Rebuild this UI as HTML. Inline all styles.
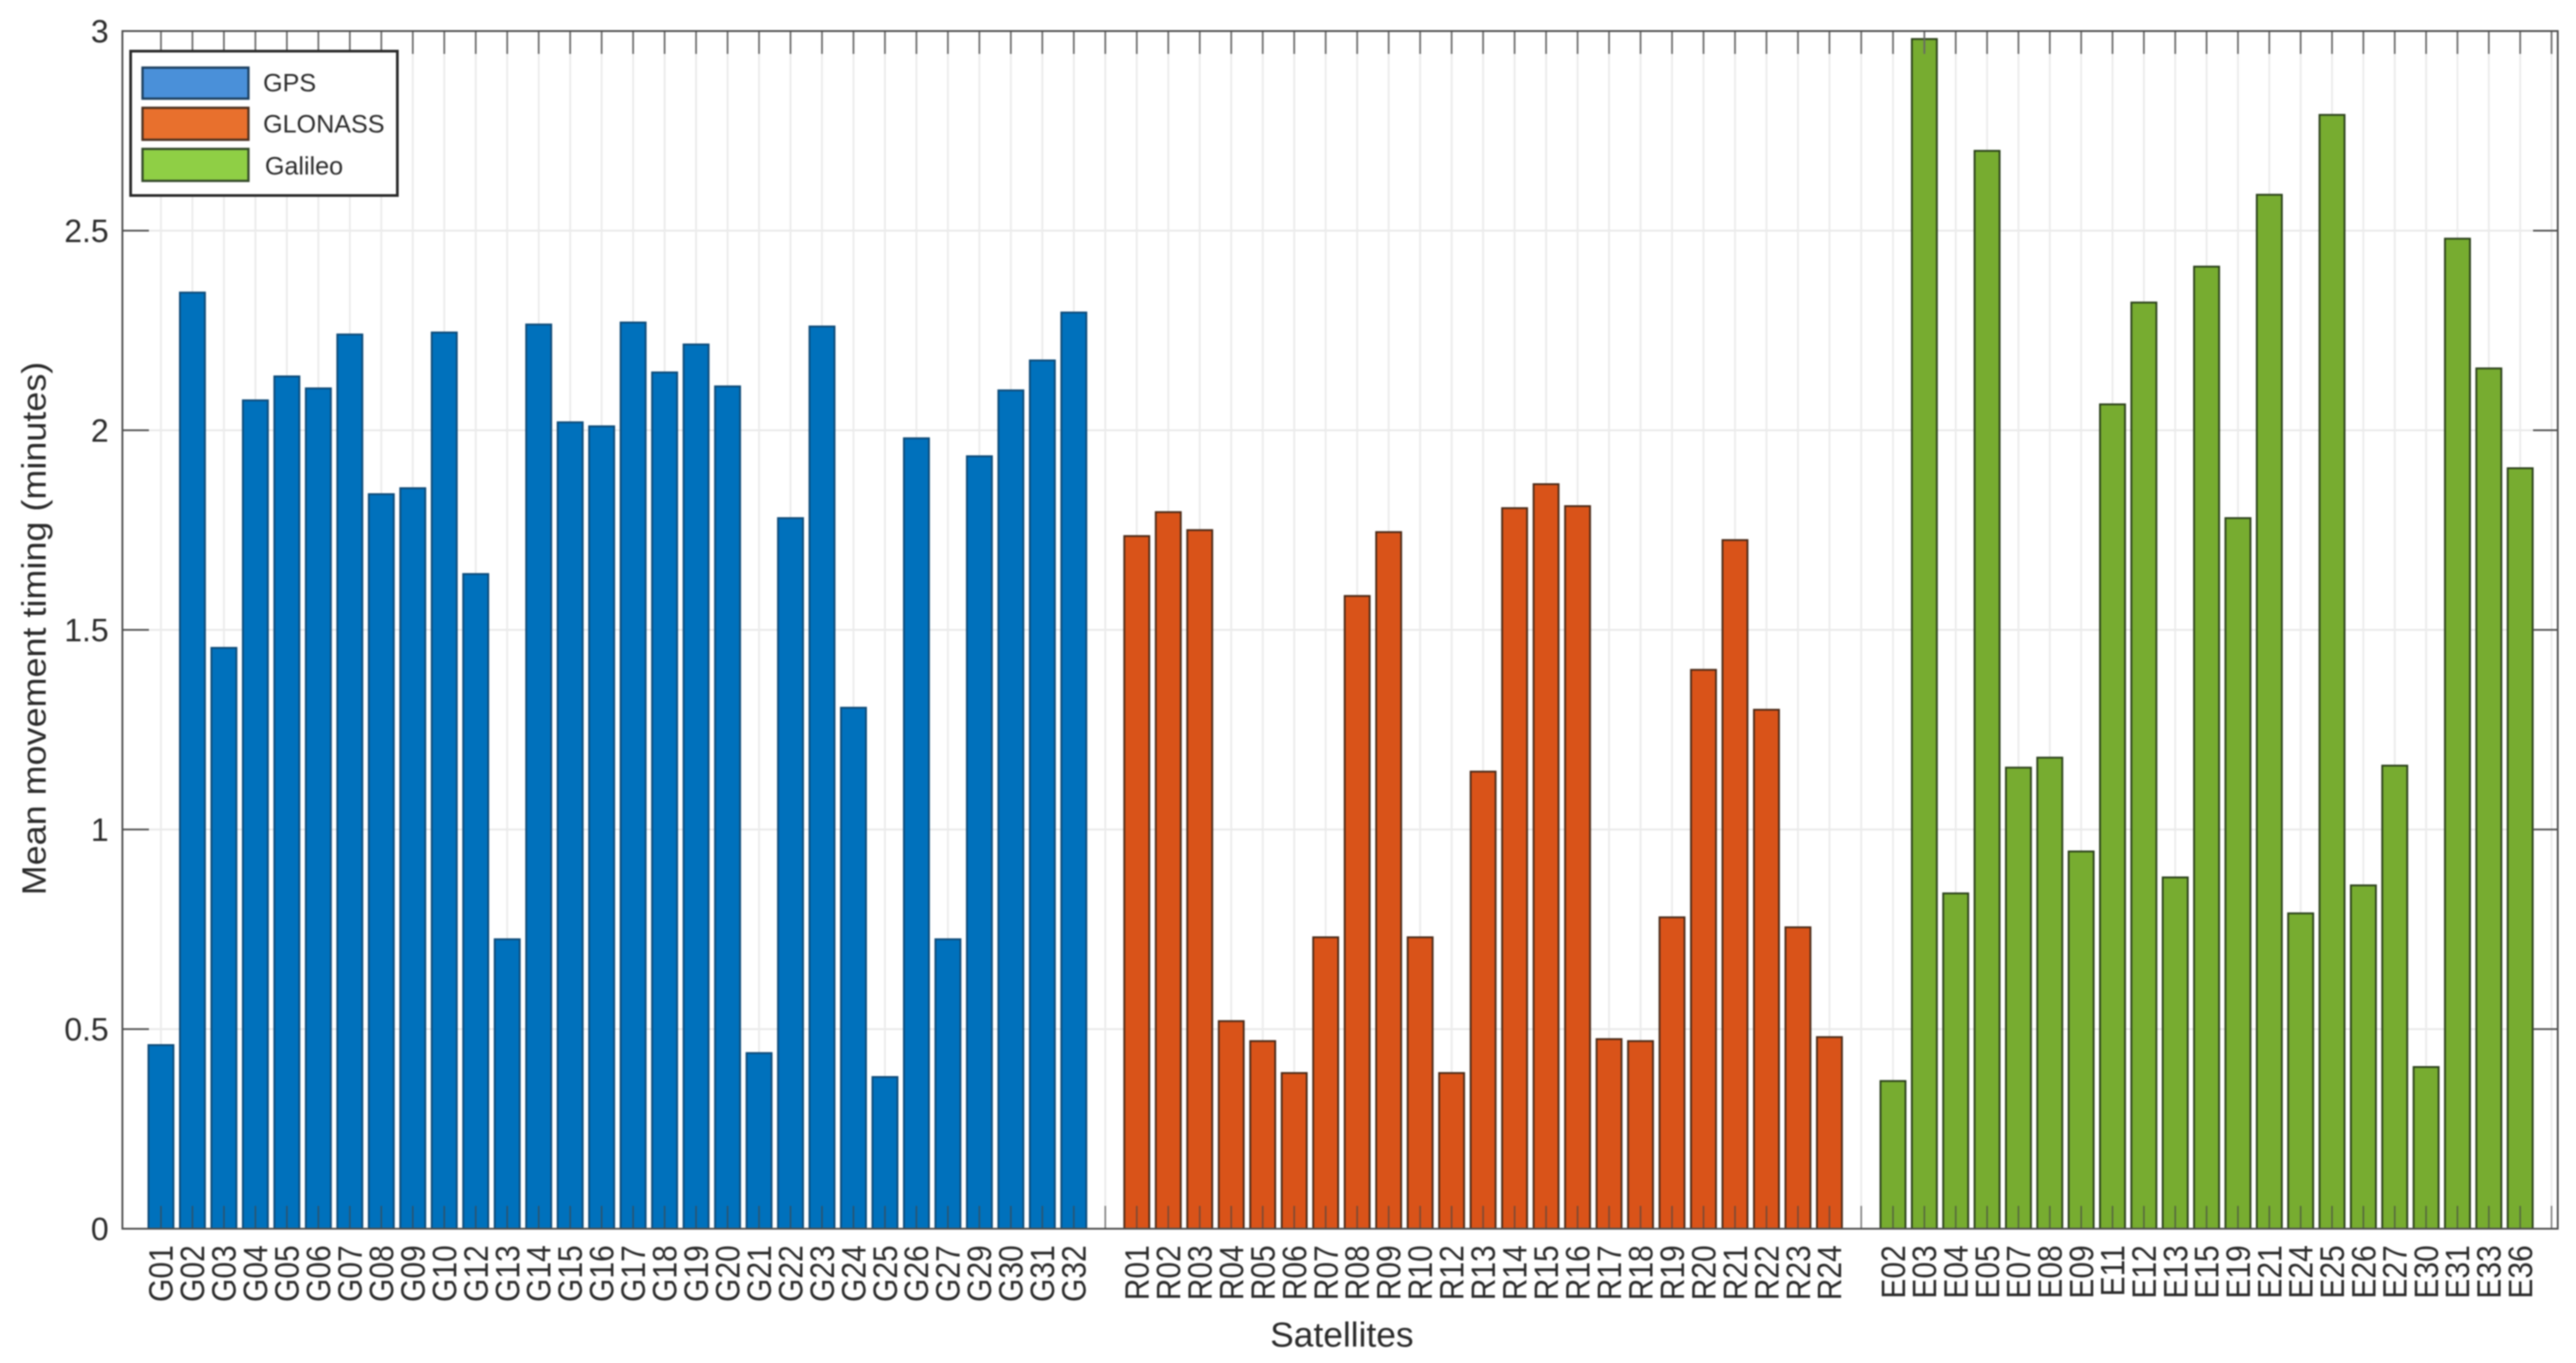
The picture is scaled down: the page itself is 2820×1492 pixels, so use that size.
<!DOCTYPE html>
<html lang="en">
<head>
<meta charset="utf-8">
<title>Mean movement timing by satellite</title>
<style>
html,body{margin:0;padding:0;background:#fff;width:2820px;height:1492px;overflow:hidden}
svg{display:block;filter:blur(.7px)}
text{font-family:"Liberation Sans",sans-serif;fill:#2b2b2b}
</style>
</head>
<body>
<svg id="chart" xmlns="http://www.w3.org/2000/svg" width="2820" height="1492" viewBox="0 0 2820 1492">
  <rect x="0" y="0" width="2820" height="1492" fill="#fff"/>
  <g id="grid"></g>
  <g id="bars"></g>
  <g id="ticks"></g>
  <g id="ytick-labels"></g>
  <g id="xtick-labels"></g>
  <rect x="134" y="34" width="2666" height="1311" fill="none" stroke="#4d4d4d" stroke-width="2"/>
  <text transform="translate(50,688) rotate(-90)" text-anchor="middle" font-size="37" textLength="584" lengthAdjust="spacingAndGlyphs">Mean movement timing (minutes)</text>
  <text x="1469" y="1474" text-anchor="middle" font-size="38" textLength="157" lengthAdjust="spacingAndGlyphs">Satellites</text>
  <g>
    <rect x="143" y="56" width="292" height="158" fill="#fff" stroke="#2b2b2b" stroke-width="3"/>
    <g>
      <rect x="156" y="74" width="116" height="34" fill="#4a90d9" stroke="#1d3f5e" stroke-width="2.5"/>
      <text x="288" y="100" font-size="27.5">GPS</text>
    </g>
    <g>
      <rect x="156" y="118" width="116" height="35" fill="#e8702d" stroke="#4a3020" stroke-width="2.5"/>
      <text x="288" y="145" font-size="27.5">GLONASS</text>
    </g>
    <g>
      <rect x="156" y="163" width="116" height="35" fill="#8fcf45" stroke="#33492a" stroke-width="2.5"/>
      <text x="290" y="191" font-size="27.5">Galileo</text>
    </g>
  </g>
</svg>
<script>
const gpsLabels = ["G01","G02","G03","G04","G05","G06","G07","G08","G09","G10","G12","G13","G14","G15","G16","G17","G18","G19","G20","G21","G22","G23","G24","G25","G26","G27","G29","G30","G31","G32"];
const gpsValues = [0.46,2.345,1.455,2.075,2.135,2.105,2.24,1.84,1.855,2.245,1.64,0.725,2.265,2.02,2.01,2.27,2.145,2.215,2.11,0.44,1.78,2.26,1.305,0.38,1.98,0.725,1.935,2.1,2.175,2.295];
const gloLabels = ["R01","R02","R03","R04","R05","R06","R07","R08","R09","R10","R12","R13","R14","R15","R16","R17","R18","R19","R20","R21","R22","R23","R24"];
const gloValues = [1.735,1.795,1.75,0.52,0.47,0.39,0.73,1.585,1.745,0.73,0.39,1.145,1.805,1.865,1.81,0.475,0.47,0.78,1.4,1.725,1.3,0.755,0.48];
const galLabels = ["E02","E03","E04","E05","E07","E08","E09","E11","E12","E13","E15","E19","E21","E24","E25","E26","E27","E30","E31","E33","E36"];
const galValues = [0.37,2.98,0.84,2.7,1.155,1.18,0.945,2.065,2.32,0.88,2.41,1.78,2.59,0.79,2.79,0.86,1.16,0.405,2.48,2.155,1.905];
const yTicks = [0,0.5,1,1.5,2,2.5,3];
const yTickLabels = ["0","0.5","1","1.5","2","2.5","3"];

const NS = "http://www.w3.org/2000/svg";
const plot = {left:134,right:2800,top:34,bottom:1345};
function xScale(slot){
  if (slot <= 30) return 176.2 + slot * 34.46;
  if (slot <= 53) return 1210 + (slot - 30) * 34.466;
  if (slot <= 55) return 2002.7 + (slot - 53) * 34.8;
  return 2072.3 + (slot - 55) * 34.33;
}
function yScale(v){ return plot.bottom - (v / 3) * (plot.bottom - plot.top); }
function make(parent, tag, attrs){
  const el = document.createElementNS(NS, tag);
  for (const k in attrs) el.setAttribute(k, attrs[k]);
  parent.appendChild(el);
  return el;
}
const gridG = document.getElementById("grid");
const barsG = document.getElementById("bars");
const ticksG = document.getElementById("ticks");
const yLabG = document.getElementById("ytick-labels");
const xLabG = document.getElementById("xtick-labels");

const series = [
  {name:"gps",labels:gpsLabels,values:gpsValues,fill:"#0071bc",edge:"#0d4a78"},
  {name:"glonass",labels:gloLabels,values:gloValues,fill:"#d95319",edge:"#4a2a18"},
  {name:"galileo",labels:galLabels,values:galValues,fill:"#77ac30",edge:"#2a401a"}
];
const barWidth = 27.4;

function drawXTick(slot){
  const x = xScale(slot);
  const grid = make(gridG, "line", {x1:x,x2:x,y1:plot.top,y2:plot.bottom,stroke:"#ebebeb","stroke-width":2});
  
  
  const top = make(ticksG, "line", {x1:x,x2:x,y1:plot.top,y2:plot.top+25,stroke:"#666","stroke-width":1.8});
  
  
  const bot = make(ticksG, "line", {x1:x,x2:x,y1:plot.bottom-25,y2:plot.bottom,stroke:"#444","stroke-width":1.6,"stroke-opacity":0.7});
  
  
}

yTicks.forEach(function(v, i){
  const y = yScale(v);
  const grid = make(gridG, "line", {x1:plot.left,x2:plot.right,y1:y,y2:y,stroke:"#e9e9e9","stroke-width":2});
  
  
  const tl = make(ticksG, "line", {x1:plot.left,x2:plot.left+29,y1:y,y2:y,stroke:"#555","stroke-width":2});
  
  
  const tr = make(ticksG, "line", {x1:plot.right-27,x2:plot.right,y1:y,y2:y,stroke:"#555","stroke-width":2});
  
  
  const t = make(yLabG, "text", {x:119,y:y+12.5,"text-anchor":"end","font-size":35});
  
  
  t.textContent = yTickLabels[i];
});

let slot = 0;
series.forEach(function(s){
  s.labels.forEach(function(label, i){
    const x = xScale(slot);
    const y = yScale(s.values[i]);
    drawXTick(slot);
    const bar = make(barsG, "rect", {x:x-barWidth/2,y:y,width:barWidth,height:plot.bottom-y,fill:s.fill,stroke:s.edge,"stroke-width":2});
    
    
    const t = make(xLabG, "text", {transform:"translate("+(x+13)+",1363) rotate(-90) scale(0.89,1)","text-anchor":"end","font-size":37});
    
    
    t.textContent = label;
    slot++;
  });
  drawXTick(slot);
  slot++;
});
</script>
</body>
</html>
